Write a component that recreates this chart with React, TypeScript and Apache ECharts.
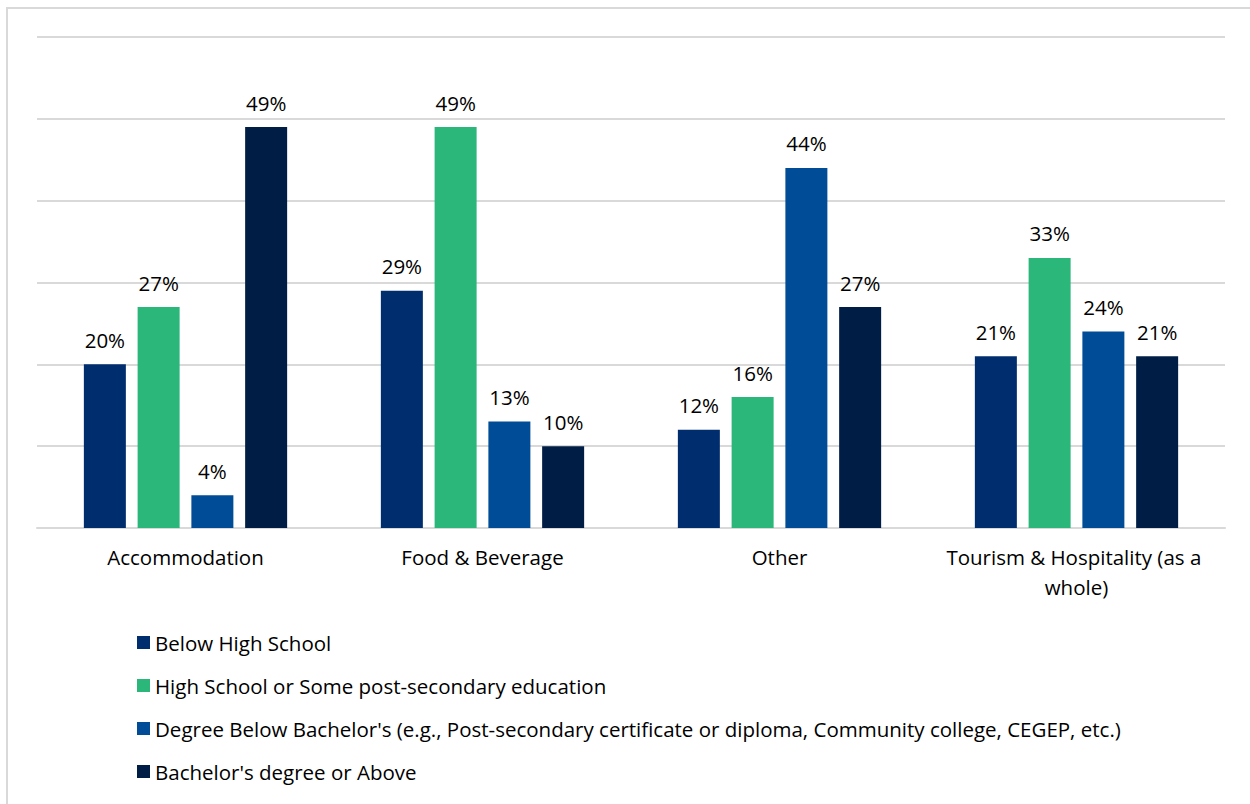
import React, { useEffect, useRef } from "react";
import * as echarts from "echarts";

const categories = ["Accommodation", "Food & Beverage", "Other", "Tourism & Hospitality (as a whole)"];
const seriesNames = [
  "Below High School",
  "High School or Some post-secondary education",
  "Degree Below Bachelor's (e.g., Post-secondary certificate or diploma, Community college, CEGEP, etc.)",
  "Bachelor's degree or Above",
];
const belowHighSchool = [20, 29, 12, 21];
const highSchoolSome = [27, 49, 16, 33];
const degreeBelowBachelor = [4, 13, 44, 24];
const bachelorOrAbove = [49, 10, 27, 21];
const colors = ["#002D6E", "#2BB67A", "#004C97", "#001E45"];

const FONT = "Open Sans";

export default function App() {
  const ref = useRef<HTMLDivElement>(null);
  useEffect(() => {
    const chart = echarts.init(ref.current!, null, { renderer: "svg" });
    const values = [belowHighSchool, highSchoolSome, degreeBelowBachelor, bachelorOrAbove];
    chart.setOption({
      animation: false,
      backgroundColor: "#ffffff",
      textStyle: { fontFamily: FONT },
      graphic: [
        {
          type: "rect",
          shape: { x: 7, y: 8, width: 1400, height: 1000 },
          style: { fill: "none", stroke: "#d9d9d9", lineWidth: 2 },
          silent: true,
        },
      ],
      grid: { left: 37, right: 25, top: 37, bottom: 276, containLabel: false },
      legend: {
        orient: "vertical",
        left: 137,
        top: 632,
        padding: 0,
        itemWidth: 13,
        itemHeight: 13,
        itemGap: 22,
        icon: "rect",
        textStyle: { fontFamily: FONT, fontSize: 20.5, color: "#000", padding: [0, 0, 0, 0] },
        data: seriesNames,
      },
      xAxis: {
        type: "category",
        data: categories,
        axisLine: { show: true, lineStyle: { color: "#d9d9d9", width: 2 } },
        axisTick: { show: false },
        axisLabel: {
          fontFamily: FONT,
          fontSize: 20.5,
          color: "#000",
          margin: 14,
          lineHeight: 30,
          width: 275,
          overflow: "break",
          interval: 0,
        },
      },
      yAxis: {
        type: "value",
        min: 0,
        max: 60,
        interval: 10,
        axisLabel: { show: false },
        axisLine: { show: false },
        axisTick: { show: false },
        splitLine: { lineStyle: { color: "#d9d9d9", width: 2 } },
      },
      series: seriesNames.map((name, i) => ({
        name,
        type: "bar",
        data: values[i],
        barWidth: 42,
        barGap: "28%",
        itemStyle: { color: colors[i] },
        label: {
          show: true,
          position: "top",
          distance: 14,
          formatter: "{c}%",
          fontFamily: FONT,
          fontSize: 20.5,
          color: "#000",
        },
      })),
    });
    return () => chart.dispose();
  }, []);
  return (
    <div
      ref={ref}
      style={{ position: "fixed", left: 0, top: 0, width: 1250, height: 804 }}
    />
  );
}
